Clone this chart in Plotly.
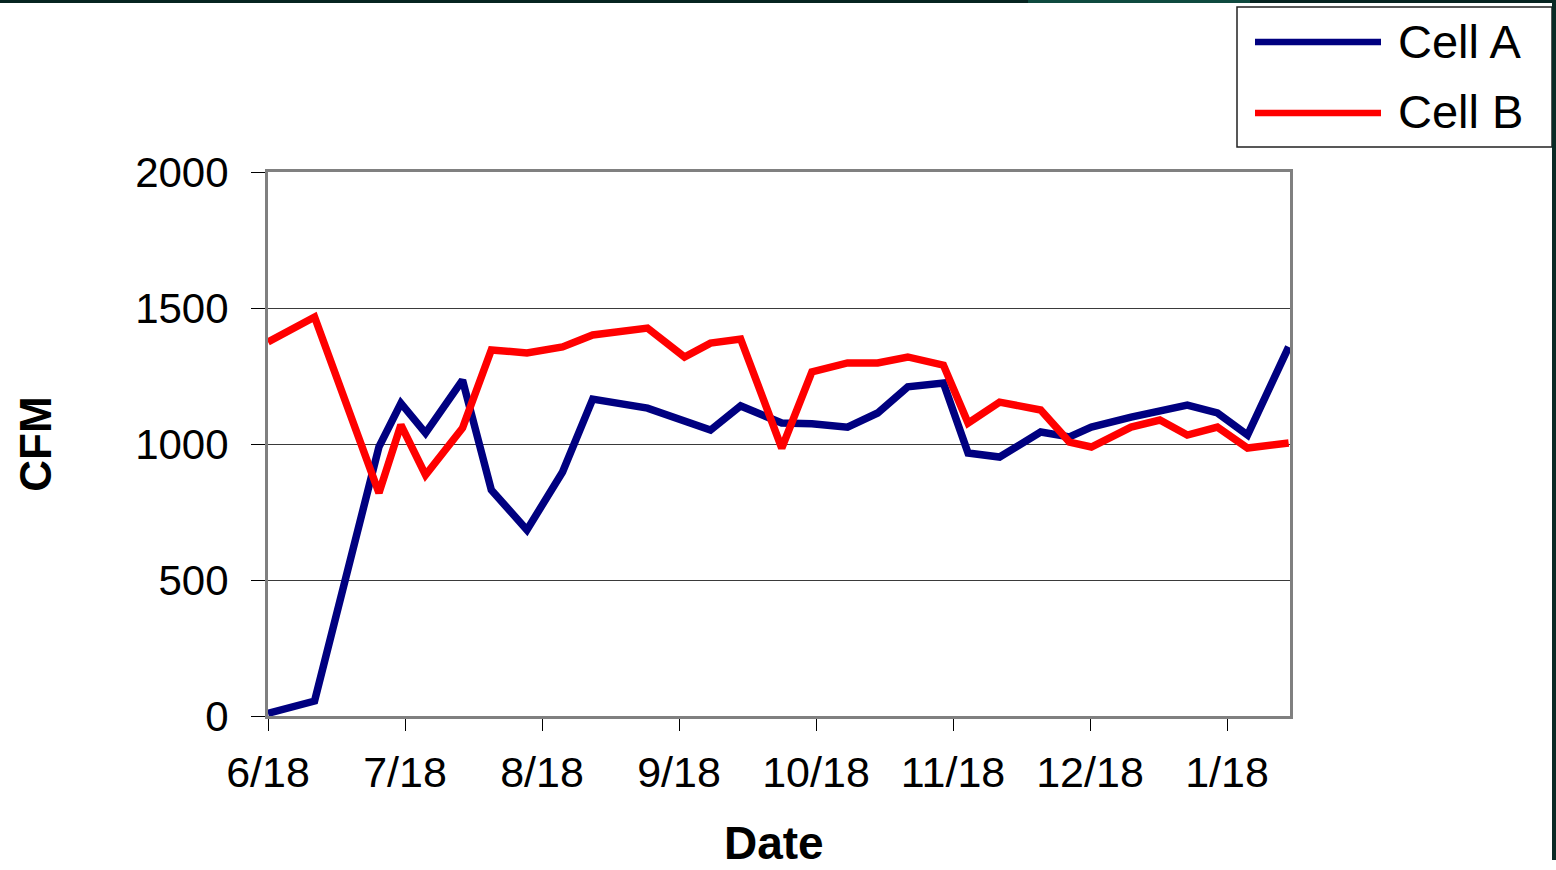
import plotly.graph_objects as go

# ---- data ----
tick_labels = ["6/18", "7/18", "8/18", "9/18", "10/18", "11/18", "12/18", "1/18"]
# sample positions, in months after 6/18
sample_month = [0.00, 0.34, 0.81, 0.97, 1.15, 1.42, 1.63, 1.89, 2.15, 2.37,
                2.77, 3.04, 3.23, 3.45, 3.75, 3.97, 4.23, 4.45, 4.67, 4.93,
                5.11, 5.34, 5.64, 5.85, 6.01, 6.30, 6.51, 6.71, 6.93, 7.15, 7.45]
cell_a = [10, 55, 990, 1150, 1040, 1235, 831, 684, 897, 1165,
          1132, 1088, 1051, 1140, 1077, 1074, 1062, 1114, 1210, 1224,
          967, 952, 1044, 1026, 1062, 1099, 1118, 1143, 1114, 1033, 1357]
cell_b = [1375, 1467, 820, 1070, 886, 1059, 1346, 1335, 1357, 1401,
          1426, 1320, 1371, 1386, 985, 1265, 1298, 1298, 1320, 1290,
          1077, 1154, 1125, 1007, 989, 1062, 1088, 1033, 1062, 985, 1004]
series_names = ["Cell A", "Cell B"]
series_colors = ["#000080", "#FF0000"]
x_title = "Date"
y_title = "CFM"

W, H = 1556, 870
L, R, T, B = 268, 266, 172, 154
PW, PH = W - L - R, H - T - B
FONT = "Liberation Sans, Arial, sans-serif"


def px_x(px):
    return (px - L) / PW


def px_y(py):
    return (H - B - py) / PH


fig = go.Figure()
for name, vals, col in zip(series_names, [cell_a, cell_b], series_colors):
    fig.add_trace(go.Scatter(x=sample_month, y=vals, mode="lines", name=name,
                             line=dict(color=col, width=7.5), showlegend=False))

fig.update_layout(
    width=W, height=H,
    margin=dict(l=L, r=R, t=T, b=B, autoexpand=False),
    paper_bgcolor="white", plot_bgcolor="white",
    font=dict(family=FONT, color="black"),
    xaxis=dict(
        range=[0, (1290 - L) / 137], tickmode="array",
        tickvals=list(range(len(tick_labels))), ticktext=tick_labels,
        ticks="outside", ticklen=12, tickcolor="black", tickwidth=1,
        tickfont=dict(size=43, family=FONT), ticklabelstandoff=4,
        showgrid=False, zeroline=False,
        showline=True, linecolor="#808080", linewidth=3, mirror=True,
        automargin=False,
    ),
    yaxis=dict(
        range=[0, 2000], tickmode="array", tickvals=[0, 500, 1000, 1500, 2000],
        ticks="outside", ticklen=14, tickcolor="black", tickwidth=1,
        tickfont=dict(size=42, family=FONT), ticklabelstandoff=14,
        showgrid=True, gridcolor="#3a3a3a", gridwidth=1, zeroline=False,
        showline=True, linecolor="#808080", linewidth=3, mirror=True,
        title=dict(text="<b>" + y_title + "</b>", font=dict(size=44, family=FONT), standoff=70),
        automargin=False,
    ),
)

# x-axis title placed below the tick labels
fig.add_annotation(xref="paper", yref="paper", x=px_x(774), y=px_y(843),
                   xanchor="center", yanchor="middle", showarrow=False, borderpad=0,
                   text="<b>" + x_title + "</b>", font=dict(size=46, family=FONT, color="black"))

# legend drawn as a boxed key in the top-right corner
fig.add_shape(type="rect", xref="paper", yref="paper",
              x0=px_x(1237), x1=px_x(1552), y0=px_y(147), y1=px_y(7),
              line=dict(color="#222222", width=1.5), fillcolor="white")
for i, (name, col) in enumerate(zip(series_names, series_colors)):
    ly = 42 + i * 71
    fig.add_shape(type="line", xref="paper", yref="paper",
                  x0=px_x(1255), x1=px_x(1381), y0=px_y(ly), y1=px_y(ly),
                  line=dict(color=col, width=6.5))
    fig.add_annotation(xref="paper", yref="paper", x=px_x(1396), y=px_y(ly - 1),
                       xanchor="left", yanchor="middle", text=name, showarrow=False,
                       font=dict(size=47, family=FONT, color="black"))

# slide frame remnants (dark band on top and right edge)
fig.add_shape(type="rect", xref="paper", yref="paper", layer="above",
              x0=px_x(0), x1=px_x(W), y0=px_y(3), y1=px_y(0),
              line=dict(width=0), fillcolor="#062420")
fig.add_shape(type="rect", xref="paper", yref="paper", layer="above",
              x0=px_x(1028), x1=px_x(1250), y0=px_y(3), y1=px_y(0),
              line=dict(width=0), fillcolor="#0f4a3f")
fig.add_shape(type="rect", xref="paper", yref="paper", layer="above",
              x0=px_x(1552), x1=px_x(W), y0=px_y(860), y1=px_y(0),
              line=dict(width=0), fillcolor="#0a2a25")

fig.write_html("out.html", config={"displayModeBar": False},
               post_script="document.body.style.margin='0';document.body.style.padding='0';")
